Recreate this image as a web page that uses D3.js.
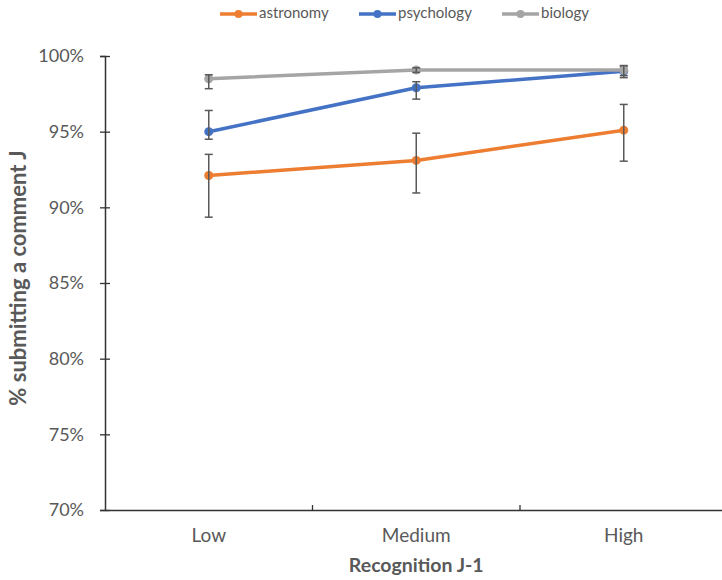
<!DOCTYPE html>
<html>
<head>
<meta charset="utf-8">
<script src="https://cdn.jsdelivr.net/npm/d3@7"></script>
<style>
  body { margin: 0; background: #fff; }
  text { font-family: Lato, "Open Sans", sans-serif; }
</style>
</head>
<body>
<div class="canvas"></div>
<script>
// data
const categories = ['Low', 'Medium', 'High'];
const seriesNames = ['astronomy', 'psychology', 'biology'];
const astronomy = [92.1, 93.1, 95.1];
const astronomyPlus = [1.4, 1.8, 1.7];
const astronomyMinus = [2.75, 2.15, 2.05];
const psychology = [95.0, 97.9, 99.0];
const psychologyPlus = [1.4, 0.4, 0.3];
const psychologyMinus = [0.5, 0.75, 0.3];
const biology = [98.5, 99.07, 99.07];
const biologyPlus = [0.26, 0.15, 0.3];
const biologyMinus = [0.66, 0.15, 0.5];
const yTicks = [70, 75, 80, 85, 90, 95, 100];

const colors = {astronomy: '#ED7D31', psychology: '#4472C4', biology: '#A5A5A5'};
const textColor = '#595959';

const series = [
  {name: 'astronomy', values: astronomy, plus: astronomyPlus, minus: astronomyMinus},
  {name: 'psychology', values: psychology, plus: psychologyPlus, minus: psychologyMinus},
  {name: 'biology', values: biology, plus: biologyPlus, minus: biologyMinus}
];

const width = 722, height = 580;
const svg = d3.select('.canvas')
  .append('svg')
    .attr('width', width)
    .attr('height', height);

const margin = {top: 56, left: 105, bottom: 70};
const plotBottom = 510;

const x = d3.scaleBand()
  .domain(categories)
  .range([margin.left, margin.left + 3 * 207.5]);

const y = d3.scaleLinear()
  .domain([70, 100])
  .range([plotBottom, margin.top]);

// y axis with cross ticks
const yAxis = d3.axisLeft(y)
  .tickValues(yTicks)
  .tickSize(5)
  .tickPadding(16)
  .tickFormat(d => d + '%');

const yGroup = svg.append('g')
  .attr('transform', `translate(${margin.left}, 0)`)
  .call(yAxis);
yGroup.select('.domain').attr('stroke', '#333').attr('stroke-width', 1.5);
yGroup.selectAll('.tick line').attr('x1', 5).attr('stroke', '#333').attr('stroke-width', 1.3);
yGroup.selectAll('.tick text')
  .attr('fill', textColor)
  .style('font-size', '18px')
  .style('font-family', 'Lato, sans-serif');

// x axis: labels only, ticks at band edges pointing up
const xAxis = d3.axisBottom(x).tickSize(0).tickPadding(19);
const xGroup = svg.append('g')
  .attr('transform', `translate(0, ${plotBottom})`)
  .call(xAxis);
xGroup.select('.domain').attr('stroke', '#333').attr('stroke-width', 1.5);
xGroup.selectAll('.tick text')
  .attr('fill', textColor)
  .style('font-size', '19px')
  .style('font-family', 'Lato, sans-serif');

xGroup.selectAll('.edge')
  .data(categories.slice(0, -1))
  .enter()
  .append('line')
    .attr('x1', d => x(d) + x.bandwidth())
    .attr('x2', d => x(d) + x.bandwidth())
    .attr('y1', 0)
    .attr('y2', -5)
    .attr('stroke', '#333')
    .attr('stroke-width', 1.3);

// axis titles
svg.append('text')
  .attr('x', (x.range()[0] + x.range()[1]) / 2)
  .attr('y', 567)
  .attr('text-anchor', 'middle')
  .attr('dominant-baseline', 'middle')
  .attr('fill', textColor)
  .style('font-size', '19.5px')
  .style('font-weight', 'bold')
  .text('Recognition J-1');

svg.append('text')
  .attr('transform', `translate(20, ${(y(70) + y(100)) / 2 - 5}) rotate(-90)`)
  .attr('text-anchor', 'middle')
  .attr('dominant-baseline', 'middle')
  .attr('fill', textColor)
  .style('font-size', '22px')
  .style('font-weight', 'bold')
  .text('% submitting a comment J');

const cx = d => x(d) + x.bandwidth() / 2;

const line = d3.line()
  .x(d => cx(d.cat))
  .y(d => y(d.v));

// draw series in legend order (biology ends up on top)
series.forEach(s => {
  const pts = categories.map((c, i) => ({cat: c, v: s.values[i], p: s.plus[i], m: s.minus[i]}));
  const g = svg.append('g');

  g.append('path')
    .datum(pts)
    .attr('fill', 'none')
    .attr('stroke', colors[s.name])
    .attr('stroke-width', 3.5)
    .attr('stroke-linejoin', 'round')
    .attr('d', line);

  g.selectAll('circle')
    .data(pts)
    .enter()
    .append('circle')
      .attr('cx', d => cx(d.cat))
      .attr('cy', d => y(d.v))
      .attr('r', 4.5)
      .attr('fill', colors[s.name]);

  // error bars
  const eb = g.selectAll('.err')
    .data(pts)
    .enter()
    .append('g')
      .attr('stroke', '#595959')
      .attr('stroke-width', 1.5);
  eb.append('line')
    .attr('x1', d => cx(d.cat)).attr('x2', d => cx(d.cat))
    .attr('y1', d => y(d.v + d.p)).attr('y2', d => y(d.v - d.m));
  eb.append('line')
    .attr('x1', d => cx(d.cat) - 4).attr('x2', d => cx(d.cat) + 4)
    .attr('y1', d => y(d.v + d.p)).attr('y2', d => y(d.v + d.p));
  eb.append('line')
    .attr('x1', d => cx(d.cat) - 4).attr('x2', d => cx(d.cat) + 4)
    .attr('y1', d => y(d.v - d.m)).attr('y2', d => y(d.v - d.m));
});

// legend
const legendX = [220, 359, 502];
const legend = svg.append('g').attr('transform', 'translate(0, 14)');
seriesNames.forEach((name, i) => {
  const lg = legend.append('g').attr('transform', `translate(${legendX[i]}, 0)`);
  lg.append('line')
    .attr('x1', 0).attr('x2', 37)
    .attr('y1', 0).attr('y2', 0)
    .attr('stroke', colors[name])
    .attr('stroke-width', 3.5);
  lg.append('circle')
    .attr('cx', 18.5).attr('cy', 0).attr('r', 4)
    .attr('fill', colors[name]);
  lg.append('text')
    .attr('x', 39)
    .attr('y', 0)
    .attr('dominant-baseline', 'middle')
    .attr('fill', textColor)
    .style('font-size', '15px')
    .text(name);
});
</script>
</body>
</html>
